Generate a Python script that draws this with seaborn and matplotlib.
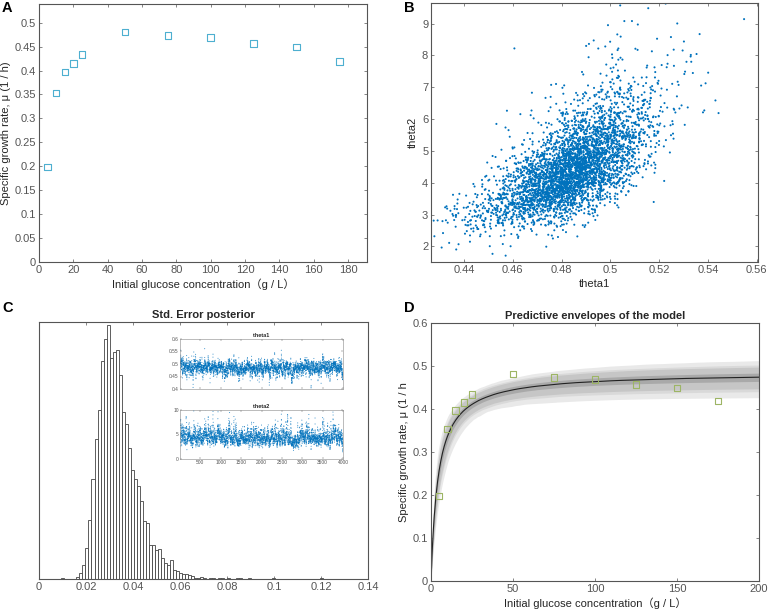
import numpy as np
import pandas as pd
import matplotlib
matplotlib.use("Agg")
import matplotlib.pyplot as plt
import seaborn as sns
from matplotlib.ticker import FixedLocator, FixedFormatter

# ---------------- data ----------------
glucose = [5, 10, 15, 20, 25, 50, 75, 100, 125, 150, 175]
growth_rate = [0.198, 0.353, 0.397, 0.415, 0.434, 0.481, 0.473, 0.469, 0.457, 0.449, 0.419]

# histogram of the std. error posterior (bin counts read bar by bar)
hist_start = 0.00954
hist_width = 0.00128
std_error_counts = [1, 0, 0, 0, 0, 2, 6, 14, 31, 58, 98, 138, 166, 215, 236, 250,
                    218, 223, 225, 201, 164, 153, 129, 107, 98, 92, 77, 57, 55, 33,
                    33, 29, 30, 21, 16, 14, 19, 9, 8, 6, 5, 5, 4, 3, 1, 1, 2, 1, 0,
                    1, 1, 0, 1, 1, 0, 1, 0, 0, 1, 1, 0, 0, 1, 0, 0, 0, 0, 0, 0, 0,
                    1, 0, 0, 0, 0, 0, 0, 0, 0, 0, 0, 0, 0, 0, 0, 0, 1]

# posterior summary of the MCMC cloud (panel B) - the 4000-point cloud itself
# cannot be transcribed point by point, so a chain with these read moments is drawn
n_iter = 4000
theta1_center = 0.486
theta1_sd = 0.0175
theta2_center = 4.45
theta2_logsd = 0.24
theta_corr = 0.66
chain_rho = 0.8

band_levels = [99, 95, 90, 50]

a_xticks = [0, 20, 40, 60, 80, 100, 120, 140, 160, 180]
a_yticks = [0, 0.05, 0.1, 0.15, 0.2, 0.25, 0.3, 0.35, 0.4, 0.45, 0.5]
a_ylabels = ["0", "0.05", "0.1", "0.15", "0.2", "0.25", "0.3", "0.35", "0.4", "0.45", "0.5"]
b_xticks = [0.44, 0.46, 0.48, 0.5, 0.52, 0.54, 0.56]
b_xlabels = ["0.44", "0.46", "0.48", "0.5", "0.52", "0.54", "0.56"]
b_yticks = [2, 3, 4, 5, 6, 7, 8, 9]
c_xticks = [0, 0.02, 0.04, 0.06, 0.08, 0.1, 0.12, 0.14]
c_xlabels = ["0", "0.02", "0.04", "0.06", "0.08", "0.1", "0.12", "0.14"]
d_xticks = [0, 50, 100, 150, 200]
d_yticks = [0, 0.1, 0.2, 0.3, 0.4, 0.5, 0.6]
d_ylabels = ["0", "0.1", "0.2", "0.3", "0.4", "0.5", "0.6"]
trace_xticks = [500, 1000, 1500, 2000, 2500, 3000, 3500, 4000]
t1_yticks = [0.4, 0.45, 0.5, 0.55, 0.6]
t1_ylabels = ["0.4", "0.45", "0.5", "0.55", "0.6"]
t2_yticks = [0, 5, 10]

xlabel_text = "Initial glucose concentration\uff08g / L\uff09"

# ---------------- style ----------------
sns.set_style("ticks", rc={
    "xtick.direction": "in", "ytick.direction": "in",
    "axes.edgecolor": "#555555", "axes.linewidth": 0.6,
    "xtick.color": "#555555", "ytick.color": "#555555",
    "xtick.labelcolor": "#262626", "ytick.labelcolor": "#262626",
    "axes.labelcolor": "#262626",
})
plt.rcParams["font.family"] = ["Liberation Sans", "Noto Sans CJK SC", "DejaVu Sans"]

W, H = 770, 616
fig = plt.figure(figsize=(W / 100, H / 100), dpi=100)


def box(l, t, r, b):
    return [l / W, 1 - b / H, (r - l) / W, (b - t) / H]


def style_axes(ax, size=8, length=2.5):
    ax.tick_params(which="both", top=True, right=True, labelsize=size,
                   length=length, width=0.5, pad=2)
    for s in ax.spines.values():
        s.set_visible(True)


MATLAB_BLUE = "#0072BD"

# ---------------- chain (posterior sample) ----------------
rng = np.random.default_rng(11)
innov = rng.standard_t(5, size=(n_iter, 2)) * np.sqrt(3 / 5)
z = np.zeros((n_iter, 2))
for i in range(1, n_iter):
    z[i] = chain_rho * z[i - 1] + np.sqrt(1 - chain_rho ** 2) * innov[i]
z[:, 0] /= z[:, 0].std()
z[:, 1] /= z[:, 1].std()
theta1 = theta1_center + theta1_sd * z[:, 0]
theta2 = np.exp(np.log(theta2_center) + theta2_logsd *
                (theta_corr * z[:, 0] + np.sqrt(1 - theta_corr ** 2) * z[:, 1]))
chain = pd.DataFrame({"iter": np.arange(1, n_iter + 1), "theta1": theta1, "theta2": theta2})

# ---------------- panel A ----------------
axA = fig.add_axes(box(39, 4, 367, 262))
sns.scatterplot(x=glucose, y=growth_rate, ax=axA, marker="s", s=22,
                facecolor="none", edgecolor="#4DAFD0", linewidth=0.8)
axA.set_xlim(0, 191)
axA.set_ylim(0, 0.539)
axA.xaxis.set_major_locator(FixedLocator(a_xticks))
axA.yaxis.set_major_locator(FixedLocator(a_yticks))
axA.yaxis.set_major_formatter(FixedFormatter(a_ylabels))
axA.set_xlabel(xlabel_text, fontsize=8, labelpad=3)
axA.set_ylabel("Specific growth rate, \u03bc (1 / h)", fontsize=8, labelpad=3)
style_axes(axA)

# ---------------- panel B ----------------
axB = fig.add_axes(box(431, 3, 758, 262))
sns.scatterplot(data=chain, x="theta1", y="theta2", ax=axB, s=2.2,
                color=MATLAB_BLUE, edgecolor="none", linewidth=0)
axB.set_xlim(0.4265, 0.5605)
axB.set_ylim(1.507, 9.65)
axB.xaxis.set_major_locator(FixedLocator(b_xticks))
axB.xaxis.set_major_formatter(FixedFormatter(b_xlabels))
axB.yaxis.set_major_locator(FixedLocator(b_yticks))
axB.set_xlabel("theta1", fontsize=8, labelpad=3)
axB.set_ylabel("theta2", fontsize=8, labelpad=3)
style_axes(axB)

# ---------------- panel C ----------------
axC = fig.add_axes(box(39, 322, 368, 579))
edges = [hist_start + hist_width * k for k in range(len(std_error_counts) + 1)]
hist_df = pd.DataFrame({
    "std_error": [(edges[k] + edges[k + 1]) / 2 for k in range(len(std_error_counts))],
    "count": std_error_counts,
})
sns.histplot(data=hist_df, x="std_error", weights="count", bins=edges, ax=axC,
             color="white", edgecolor="#444444", linewidth=0.6, alpha=1)
axC.set_xlim(0, 0.14)
axC.set_ylim(0, 253)
axC.xaxis.set_major_locator(FixedLocator(c_xticks))
axC.xaxis.set_major_formatter(FixedFormatter(c_xlabels))
axC.set_yticks([])
axC.set_ylabel("")
axC.set_xlabel("")
axC.set_title("Std. Error posterior", fontsize=8, fontweight="bold", pad=3)
style_axes(axC)

# trace insets
for (t, b, col, yt, yl, ylim, show_x) in [
        (339, 389, "theta1", t1_yticks, t1_ylabels, (0.4, 0.6), False),
        (410, 459, "theta2", t2_yticks, [str(v) for v in t2_yticks], (0, 10), True)]:
    ax = fig.add_axes(box(180, t, 343, b))
    sns.scatterplot(data=chain, x="iter", y=col, ax=ax, s=0.6, color=MATLAB_BLUE,
                    edgecolor="none", linewidth=0, alpha=0.75)
    ax.set_xlim(0, 4000)
    ax.set_ylim(*ylim)
    ax.xaxis.set_major_locator(FixedLocator(trace_xticks))
    ax.yaxis.set_major_locator(FixedLocator(yt))
    ax.yaxis.set_major_formatter(FixedFormatter(yl))
    ax.set_xlabel("")
    ax.set_ylabel("")
    ax.set_title(col, fontsize=4, fontweight="bold", pad=1.5)
    ax.tick_params(which="both", top=True, right=True, labelsize=3.5,
                   length=1.2, width=0.3, pad=1)
    if not show_x:
        ax.tick_params(axis="x", labelbottom=False)
    for s in ax.spines.values():
        s.set_linewidth(0.4)
        s.set_edgecolor("#888888")

# ---------------- panel D ----------------
axD = fig.add_axes(box(431, 323, 759, 581))
xgrid = np.linspace(0, 200, 401)
pred = theta1[:, None] * xgrid[None, :] / (theta2[:, None] + xgrid[None, :])
band_colors = ["#e9e9e9", "#d9d9d9", "#c6c6c6", "#a9a9a9"]
for lev, colr in zip(band_levels, band_colors):
    lo = np.percentile(pred, 50 - lev / 2, axis=0)
    hi = np.percentile(pred, 50 + lev / 2, axis=0)
    axD.fill_between(xgrid, lo, hi, color=colr, linewidth=0)
median_curve = np.median(pred, axis=0)
sns.lineplot(x=xgrid, y=median_curve, ax=axD, color="#222222", linewidth=0.8)
sns.scatterplot(x=glucose, y=growth_rate, ax=axD, marker="s", s=22,
                facecolor="none", edgecolor="#9DB565", linewidth=0.8, zorder=5)
axD.set_xlim(0, 200)
axD.set_ylim(0, 0.6)
axD.xaxis.set_major_locator(FixedLocator(d_xticks))
axD.yaxis.set_major_locator(FixedLocator(d_yticks))
axD.yaxis.set_major_formatter(FixedFormatter(d_ylabels))
axD.set_xlabel(xlabel_text, fontsize=8, labelpad=3)
axD.set_ylabel("Specific growth rate, \u03bc (1 / h", fontsize=8, labelpad=3)
axD.set_title("Predictive envelopes of the model", fontsize=8, fontweight="bold", pad=3)
style_axes(axD)

# panel letters
for lbl, x, y in [("A", 2, 8), ("B", 404, 8), ("C", 2, 308), ("D", 404, 308)]:
    fig.text(x / W, 1 - y / H, lbl, fontsize=10.5, fontweight="bold",
             ha="left", va="center", color="black")

fig.savefig("out.png", dpi=100)
